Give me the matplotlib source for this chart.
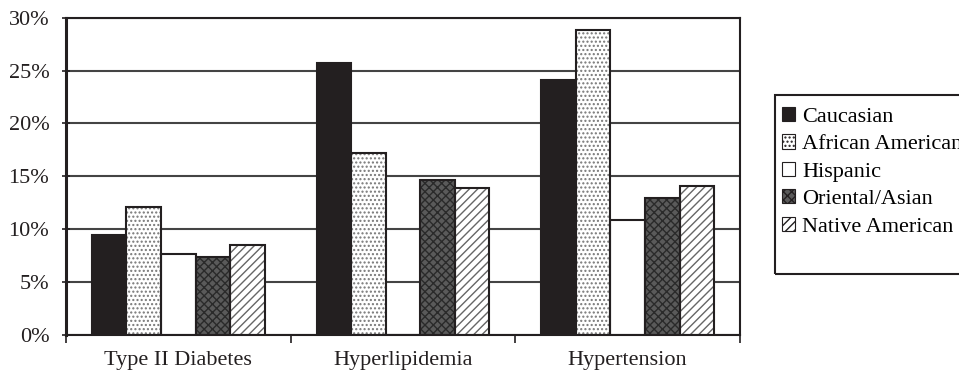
import numpy as np
import matplotlib.pyplot as plt
from matplotlib.patches import Rectangle, Patch
from matplotlib.ticker import FixedLocator, PercentFormatter

plt.rcParams['font.family'] = ['Liberation Serif', 'DejaVu Serif']
plt.rcParams['font.size'] = 16
plt.rcParams['hatch.linewidth'] = 1.0

# prevalence by condition (%)
conditions = ['Type II Diabetes', 'Hyperlipidemia', 'Hypertension']
groups = ['Caucasian', 'African American', 'Hispanic', 'Oriental/Asian', 'Native American']
caucasian = [9.4, 25.7, 24.1]
african_american = [12.1, 17.2, 28.8]
hispanic = [7.6, 0.0, 10.8]
oriental_asian = [7.3, 14.6, 12.9]
native_american = [8.5, 13.9, 14.1]
series = [caucasian, african_american, hispanic, oriental_asian, native_american]

dark = '#231f20'
styles = [
    dict(facecolor=dark, hatch=None, hatchcolor=dark),
    dict(facecolor='white', hatch='....', hatchcolor='#777777'),
    dict(facecolor='white', hatch=None, hatchcolor=dark),
    dict(facecolor='#5a5a5a', hatch='xxxx', hatchcolor='#2a2a2a'),
    dict(facecolor='white', hatch='////', hatchcolor='#666666'),
]

fig = plt.figure(figsize=(9.59, 3.70), dpi=100)
ax = fig.add_axes([66 / 959, 1 - 334.5 / 370, 674 / 959, 316.8 / 370])

x = np.arange(len(conditions))
w = 1 / 6.5
for i, (vals, st) in enumerate(zip(series, styles)):
    pos = x + (i - 2) * w
    # fill + hatch, then a separate dark outline on top
    ax.bar(pos, vals, w, color=st['facecolor'], edgecolor=st['hatchcolor'],
           hatch=st['hatch'], linewidth=0, zorder=3)
    ax.bar(pos, vals, w, fill=False, edgecolor=dark, linewidth=1.5, zorder=4)

ax.set_xlim(-0.5, 2.5)
ax.set_ylim(0, 30)
ax.yaxis.set_major_locator(FixedLocator(np.arange(0, 31, 5)))
ax.yaxis.set_major_formatter(PercentFormatter(decimals=0))
ax.grid(axis='y', color='#444444', linewidth=1.5, zorder=0)
ax.tick_params(axis='y', direction='inout', length=6, width=1.2, pad=9, colors=dark)

# category boundaries as ticks, names at the centres
ax.set_xticks([-0.5, 0.5, 1.5, 2.5])
ax.set_xticklabels([])
ax.tick_params(axis='x', which='major', direction='out', length=6, width=1.2, color=dark)
ax.set_xticks(x, minor=True)
ax.set_xticklabels(conditions, minor=True)
ax.tick_params(axis='x', which='minor', length=0, pad=12, labelcolor=dark)

ax.spines['left'].set_linewidth(2.2)
ax.spines['bottom'].set_linewidth(1.5)
ax.spines['top'].set_linewidth(1.5)
ax.spines['right'].set_linewidth(1.5)
for s in ax.spines.values():
    s.set_color(dark)
    s.set_zorder(5)

# legend with a hand-drawn box (runs past the right edge of the figure)
handles = [Patch(facecolor=st['facecolor'], edgecolor=dark, hatch=st['hatch'], linewidth=0.8)
           for st in styles]
fig.patches.append(Rectangle((775 / 959, 1 - 274 / 370), 200 / 959, 179 / 370,
                             transform=fig.transFigure, fill=False,
                             edgecolor=dark, linewidth=1.5))
fig.legend(handles, groups, loc='upper left', bbox_to_anchor=(782 / 959, 1 - 107 / 370),
           frameon=False, fontsize=16, handlelength=0.6, handleheight=0.6,
           handletextpad=0.3, labelspacing=0.34, borderpad=0, borderaxespad=0)

fig.savefig('out.png', dpi=100)
